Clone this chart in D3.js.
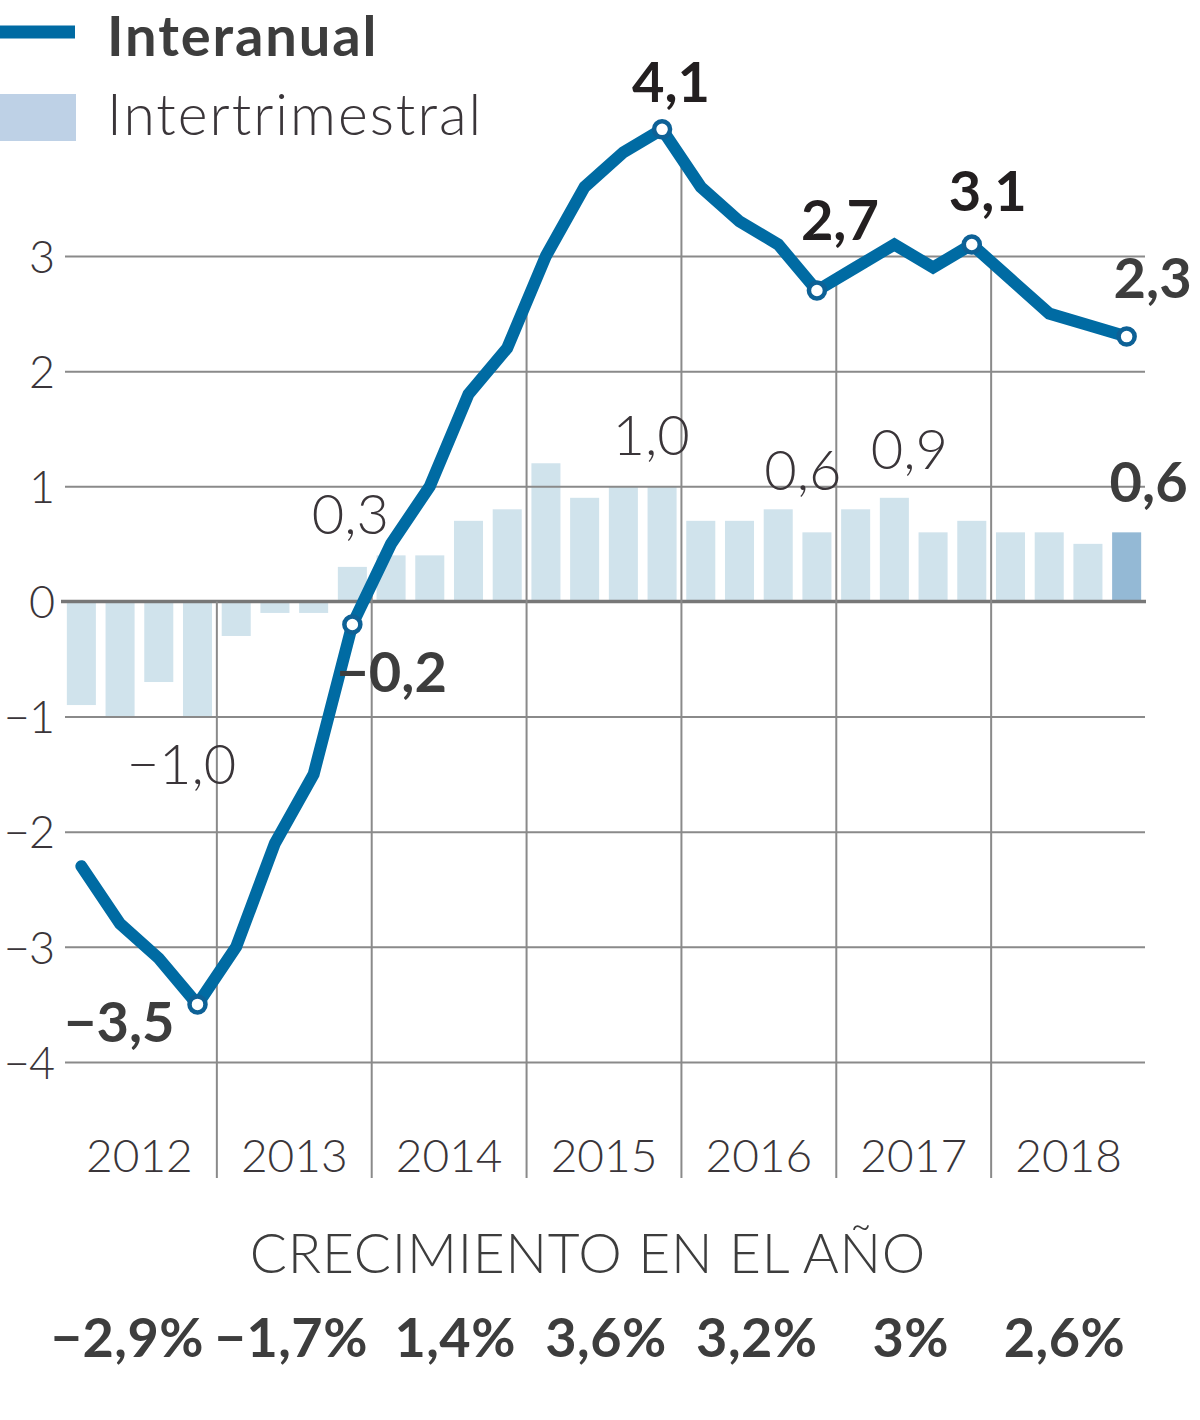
<!DOCTYPE html>
<html><head><meta charset="utf-8">
<script src="https://cdn.jsdelivr.net/npm/d3@7"></script>
<style>
body{margin:0;background:#fff}
svg{display:block}
text{font-family:Lato,"Open Sans",sans-serif}
</style>
</head><body>
<svg id="chart" width="1200" height="1420"></svg>
<script>
// ---------- data ----------
const years = ["2012","2013","2014","2015","2016","2017","2018"];
const quarterNames = ["T1","T2","T3","T4"];
const categories = years.flatMap(yr => quarterNames.map(q => yr + " " + q));
const intertrimestral = [-0.9,-1.0,-0.7,-1.0, -0.3,-0.1,-0.1,0.3, 0.4,0.4,0.7,0.8, 1.2,0.9,1.0,1.0, 0.7,0.7,0.8,0.6, 0.8,0.9,0.6,0.7, 0.6,0.6,0.5,0.6];
const interanual = [-2.3,-2.8,-3.1,-3.5, -3.0,-2.1,-1.5,-0.2, 0.5,1.0,1.8,2.2, 3.0,3.6,3.9,4.1, 3.6,3.3,3.1,2.7, 2.9,3.1,2.9,3.1, 2.8,2.5,2.4,2.3];
const annualGrowth = [-2.9,-1.7,1.4,3.6,3.2,3.0,2.6];
const yTicks = [-4,-3,-2,-1,0,1,2,3];
const legendLabels = ["Interanual","Intertrimestral"];
const footerTitle = "CRECIMIENTO EN EL AÑO";
const lineMarked = [3,7,15,19,23,27];
const barLabeled = [3,7,15,19,21,27];

// ---------- layout / style ----------
const plotL = 62, plotR = 1146, gridL = 65, gridR = 1145, sepBottom = 1178;
const lineColor = "#006ba3", barColor = "#d0e3ec", barLast = "#94b9d5";
const gridColor = "#8a8a8a", textColor = "#3a3539", boldDark = "#231f20", boldGray = "#3d3d3d";

// label placement (relative to marker / bar)
const lineLabelPos = {
  3:  {dx:-23, dy:38, anchor:"end", color:boldGray},
  7:  {dx:-16, dy:68, anchor:"start", color:boldGray},
  15: {dx:9,  dy:-27, anchor:"middle", color:boldDark},
  19: {dx:23, dy:-51, anchor:"middle", color:boldDark},
  23: {dx:16, dy:-33, anchor:"middle", color:boldDark},
  27: {dx:26, dy:-39, anchor:"middle", color:boldGray}
};
const barLabelPos = {
  3:  {dx:-16, dy:67, bold:false},
  7:  {dx:-2, dy:-33, bold:false},
  15: {dx:-11, dy:-31, bold:false},
  19: {dx:-14, dy:-42, bold:false},
  21: {dx:15, dy:-29, bold:false},
  27: {dx:22, dy:-30, bold:true}
};
const footerDx = [-12,-3,6,2,-2,-3,-4];

const loc = d3.formatLocale({decimal:",", thousands:".", grouping:[3], currency:["","€"], minus:"\u2212"});
const f1 = loc.format(".1f");
const f0 = loc.format("d");
const fPct = v => (Number.isInteger(v) ? f0(v) : f1(v)) + "%";

// ---------- scales ----------
const x = d3.scaleBand().domain(d3.range(categories.length)).range([plotL, plotR]).paddingInner(0.25).paddingOuter(0.125);
const cx = i => x(i) + x.bandwidth()/2;
const xYear = d3.scaleBand().domain(years).range([plotL, plotR]);
const y = d3.scaleLinear().domain([-4, 3]).range([1062, 256]);

const svg = d3.select("#chart");

// ---------- bars ----------
svg.append("g").selectAll("rect").data(intertrimestral).join("rect")
  .attr("x", (d,i) => x(i))
  .attr("width", x.bandwidth())
  .attr("y", d => Math.min(y(d), y(0)))
  .attr("height", d => Math.abs(y(d) - y(0)))
  .attr("fill", (d,i) => i === intertrimestral.length-1 ? barLast : barColor);

// ---------- horizontal grid + y axis ----------
const yAxis = d3.axisLeft(y).tickValues(yTicks).tickFormat(f0)
  .tickSize(-(gridR - gridL)).tickPadding(11);
const gy = svg.append("g").attr("transform", `translate(${gridL},0)`).call(yAxis);
gy.select(".domain").remove();
gy.selectAll(".tick line").attr("stroke", gridColor).attr("stroke-width", 2)
  .attr("opacity", d => d === 0 ? 0 : 1);
gy.selectAll(".tick text").attr("fill", textColor).attr("font-size", 45).attr("font-weight", 300)
  .attr("x", -11).attr("dy", "0.36em").attr("letter-spacing", -1);

// zero line
svg.append("line").attr("x1", plotL-1).attr("x2", plotR).attr("y1", y(0)).attr("y2", y(0))
  .attr("stroke", "#777").attr("stroke-width", 3.5);

// ---------- year separators ----------
const seps = d3.range(1, years.length).map(k => {
  const v = (interanual[4*k-1] + interanual[4*k]) / 2;
  return {x: xYear(years[k]), top: Math.min(y(v), y(0))};
});
svg.append("g").selectAll("line").data(seps).join("line")
  .attr("x1", d => d.x).attr("x2", d => d.x)
  .attr("y1", d => d.top).attr("y2", sepBottom)
  .attr("stroke", gridColor).attr("stroke-width", 2);

// ---------- year labels ----------
const xAxis = d3.axisBottom(xYear).tickSize(0).tickPadding(0);
const gx = svg.append("g").attr("transform", `translate(0,${sepBottom})`).call(xAxis);
gx.select(".domain").remove();
gx.selectAll(".tick text").attr("fill", textColor).attr("font-size", 46).attr("font-weight", 300)
  .attr("y", 0).attr("dy", "-6px");

// ---------- line ----------
const line = d3.line().x((d,i) => cx(i)).y(d => y(d));
svg.append("path").datum(interanual).attr("d", line)
  .attr("fill", "none").attr("stroke", lineColor).attr("stroke-width", 12)
  .attr("stroke-linecap", "round").attr("stroke-linejoin", "miter").attr("stroke-miterlimit", 2);

svg.append("g").selectAll("circle").data(lineMarked).join("circle")
  .attr("cx", i => cx(i)).attr("cy", i => y(interanual[i])).attr("r", 8)
  .attr("fill", "#fff").attr("stroke", "#0d6196").attr("stroke-width", 4.5);

// line labels
svg.append("g").selectAll("text").data(lineMarked).join("text")
  .attr("x", i => cx(i) + lineLabelPos[i].dx)
  .attr("y", i => y(interanual[i]) + lineLabelPos[i].dy)
  .attr("text-anchor", i => lineLabelPos[i].anchor)
  .attr("font-size", 56).attr("font-weight", 700)
  .attr("fill", i => lineLabelPos[i].color)
  .text(i => f1(interanual[i]));

// bar labels
svg.append("g").selectAll("text").data(barLabeled).join("text")
  .attr("x", i => cx(i) + barLabelPos[i].dx)
  .attr("y", i => y(intertrimestral[i]) + barLabelPos[i].dy)
  .attr("text-anchor", "middle")
  .attr("font-size", 56)
  .attr("font-weight", i => barLabelPos[i].bold ? 700 : 300)
  .attr("fill", i => barLabelPos[i].bold ? boldGray : textColor)
  .text(i => f1(intertrimestral[i]));

// ---------- legend ----------
const lg = svg.append("g");
lg.append("line").attr("x1", 0).attr("x2", 75).attr("y1", 32).attr("y2", 32)
  .attr("stroke", lineColor).attr("stroke-width", 13);
lg.append("text").attr("x", 107).attr("y", 56).attr("font-size", 56).attr("font-weight", 700)
  .attr("letter-spacing", 1.9).attr("fill", boldGray).text(legendLabels[0]);
lg.append("rect").attr("x", 0).attr("y", 94).attr("width", 76).attr("height", 47).attr("fill", "#bed1e6");
lg.append("text").attr("x", 107).attr("y", 135).attr("font-size", 57).attr("font-weight", 300)
  .attr("letter-spacing", 2).attr("fill", textColor).text(legendLabels[1]);

// ---------- footer ----------
svg.append("text").attr("x", 588).attr("y", 1273).attr("text-anchor", "middle")
  .attr("font-size", 55).attr("font-weight", 300).attr("letter-spacing", 0.8)
  .attr("fill", boldGray).text(footerTitle);
svg.append("g").selectAll("text").data(annualGrowth).join("text")
  .attr("x", (d,i) => xYear(years[i]) + xYear.bandwidth()/2 + footerDx[i])
  .attr("y", 1357).attr("text-anchor", "middle")
  .attr("font-size", 54).attr("font-weight", 700).attr("letter-spacing", 0.5).attr("fill", boldGray)
  .text(d => fPct(d));
</script>
</body></html>
